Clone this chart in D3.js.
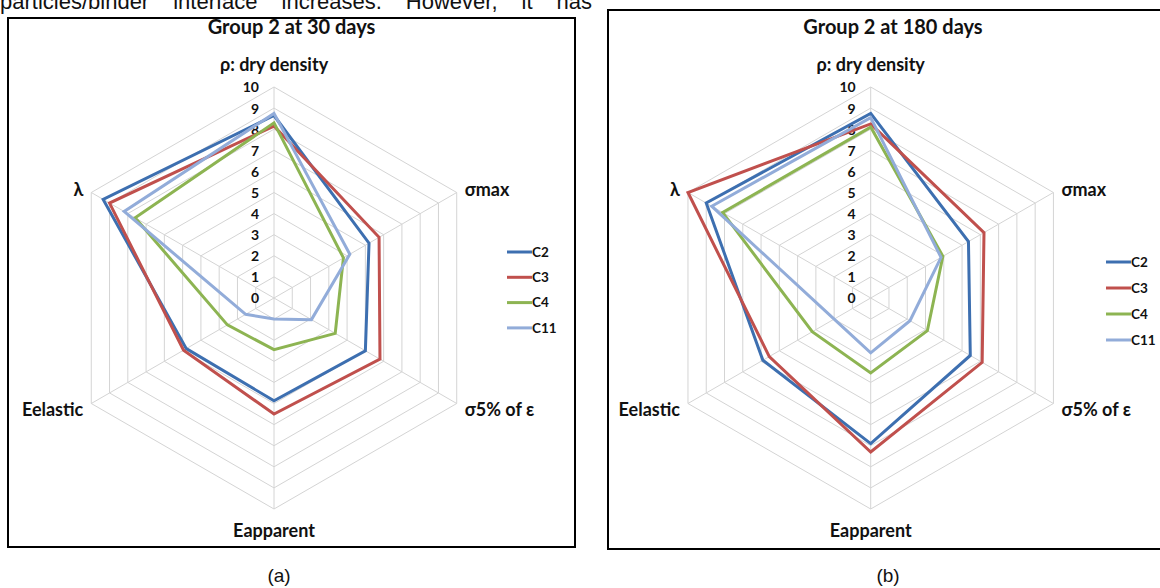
<!DOCTYPE html>
<html>
<head>
<meta charset="utf-8">
<script src="https://cdn.jsdelivr.net/npm/d3@7"></script>
<style>
  html, body { margin: 0; padding: 0; background: #fff; }
  svg { display: block; }
  .lbl { font-family: Lato, "Open Sans", sans-serif; font-weight: 700; fill: #111; }
  .arial { font-family: "Liberation Sans", Arial, sans-serif; fill: #111; }
</style>
</head>
<body>
<svg id="fig" width="1160" height="588"></svg>
<script>
// Radar axes (clockwise from the top)
const axisNames = ["ρ: dry density", "σmax", "σ5% of ε", "Eapparent", "Eelastic", "λ"];
const seriesNames = ["C2", "C3", "C4", "C11"];
const tickValues = [0, 1, 2, 3, 4, 5, 6, 7, 8, 9, 10];

// Group 2 at 30 days
const d30_C2  = [8.65, 5.2, 5.0, 4.87, 4.8, 9.35];
const d30_C3  = [8.15, 5.75, 5.8, 5.5, 4.95, 9.0];
const d30_C4  = [8.3, 3.8, 3.35, 2.45, 2.55, 7.6];
const d30_C11 = [8.75, 4.15, 2.05, 1.0, 1.55, 8.2];

// Group 2 at 180 days
const d180_C2  = [8.75, 5.35, 5.45, 6.9, 5.9, 9.0];
const d180_C3  = [8.25, 6.2, 6.1, 7.3, 5.55, 10.0];
const d180_C4  = [8.1, 3.95, 3.1, 3.55, 3.2, 8.1];
const d180_C11 = [8.55, 3.85, 2.15, 2.6, 2.0, 8.7];

const seriesColors = ["#3d6fb0", "#c0504d", "#8db452", "#92acd9"];

const svg = d3.select("#fig");

// Running text above the figure (cut at the page top), justified by word spacing
const para = svg.append("text").attr("class", "arial")
  .attr("x", 0).attr("y", 9)
  .attr("font-size", 22)
  .text("particles/binder interface increases. However, it has");
const natural = para.node().getComputedTextLength();
para.attr("word-spacing", Math.max(0, (592 - natural) / 5));

function drawPanel(cfg) {
  const g = svg.append("g");

  // frame
  g.append("rect")
    .attr("x", cfg.box[0]).attr("y", cfg.box[1])
    .attr("width", cfg.box[2]).attr("height", cfg.box[3])
    .attr("fill", "none").attr("stroke", "#000").attr("stroke-width", 2);

  g.append("text").attr("class", "lbl")
    .attr("x", cfg.box[0] + cfg.box[2] / 2).attr("y", 34)
    .attr("text-anchor", "middle").attr("font-size", 20)
    .text(cfg.title);

  const R = 211;
  const r = d3.scaleLinear().domain([0, 10]).range([0, R]);
  const step = 2 * Math.PI / axisNames.length;
  const ang = (i) => i * step;

  const c = g.append("g").attr("transform", `translate(${cfg.cx},${cfg.cy})`);

  // grid rings
  const ring = d3.lineRadial().angle((d, i) => ang(i)).radius(d => r(d)).curve(d3.curveLinearClosed);
  c.selectAll("path.ring").data(tickValues.slice(1)).join("path")
    .attr("class", "ring")
    .attr("d", v => ring(axisNames.map(() => v)))
    .attr("fill", "none").attr("stroke", "#d4d4d4").attr("stroke-width", 1);

  // spokes
  c.selectAll("line.spoke").data(axisNames).join("line")
    .attr("class", "spoke")
    .attr("x1", 0).attr("y1", 0)
    .attr("x2", (d, i) => r(10) * Math.sin(ang(i)))
    .attr("y2", (d, i) => -r(10) * Math.cos(ang(i)))
    .attr("stroke", "#d4d4d4").attr("stroke-width", 1);

  // value scale along the top spoke
  const yScale = d3.scaleLinear().domain([0, 10]).range([0, -R]);
  const ax = c.append("g")
    .call(d3.axisLeft(yScale).tickValues(tickValues).tickSize(0).tickPadding(15).tickFormat(d3.format("d")));
  ax.select(".domain").remove();
  ax.selectAll("text").attr("class", "lbl").attr("font-size", 14).attr("dy", "0.35em");

  // axis names
  const off = [
    { dx: 0, dy: -16, anchor: "middle" },
    { dx: 8, dy: 3, anchor: "start" },
    { dx: 8, dy: 12, anchor: "start" },
    { dx: 0, dy: 28, anchor: "middle" },
    { dx: -8, dy: 12, anchor: "end" },
    { dx: -8, dy: 3, anchor: "end" }
  ];
  c.selectAll("text.axname").data(axisNames).join("text")
    .attr("class", "lbl axname")
    .attr("x", (d, i) => r(10) * Math.sin(ang(i)) + off[i].dx)
    .attr("y", (d, i) => -r(10) * Math.cos(ang(i)) + off[i].dy)
    .attr("text-anchor", (d, i) => off[i].anchor)
    .attr("font-size", 18)
    .text(d => d);

  // series polygons
  const line = d3.lineRadial().angle((d, i) => ang(i)).radius(d => r(d)).curve(d3.curveLinearClosed);
  c.selectAll("path.series").data(cfg.series).join("path")
    .attr("class", "series")
    .attr("d", d => line(d))
    .attr("fill", "none")
    .attr("stroke", (d, i) => seriesColors[i])
    .attr("stroke-width", 3)
    .attr("stroke-linejoin", "miter");

  // legend
  const lg = g.append("g").attr("transform", `translate(${cfg.legend[0]},${cfg.legend[1]})`);
  const items = lg.selectAll("g").data(seriesNames).join("g")
    .attr("transform", (d, i) => `translate(0,${i * cfg.legendStep})`);
  items.append("line").attr("x1", 0).attr("x2", 25).attr("y1", 0).attr("y2", 0)
    .attr("stroke", (d, i) => seriesColors[i]).attr("stroke-width", 3);
  items.append("text").attr("class", "lbl").attr("x", 25).attr("y", 0).attr("dy", "0.35em")
    .attr("font-size", 13.5).text(d => d);

  // caption
  svg.append("text").attr("class", "arial")
    .attr("x", cfg.caption[0]).attr("y", cfg.caption[1])
    .attr("text-anchor", "middle").attr("font-size", 19)
    .text(cfg.captionText);
}

drawPanel({
  title: "Group 2 at 30 days",
  box: [8, 18, 567, 529],
  cx: 274, cy: 298,
  series: [d30_C2, d30_C3, d30_C4, d30_C11],
  legend: [507, 252], legendStep: 25.3,
  caption: [279, 582], captionText: "(a)"
});

drawPanel({
  title: "Group 2 at 180 days",
  box: [608, 10, 570, 539],
  cx: 870.7, cy: 298,
  series: [d180_C2, d180_C3, d180_C4, d180_C11],
  legend: [1106, 262], legendStep: 26,
  caption: [888, 582], captionText: "(b)"
});
</script>
</body>
</html>
